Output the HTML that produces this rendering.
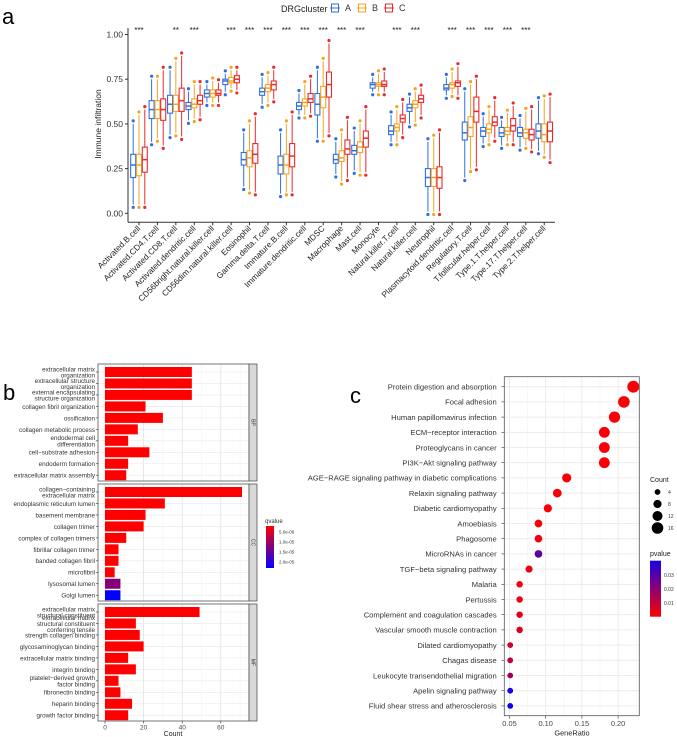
<!DOCTYPE html>
<html><head><meta charset="utf-8"><style>
body{margin:0;background:#fff}
svg{display:block;font-family:"Liberation Sans",Arial,sans-serif}
</style></head><body>
<svg id="fig" width="677" height="737" viewBox="0 0 677 737">
<g id="pa"></g>
<g id="pb"></g>
<g id="pc"></g>
</svg>
<script>
// ---------- Panel a data ----------
const cellTypes=["Activated.B.cell","Activated.CD4.T.cell","Activated.CD8.T.cell","Activated.dendritic.cell","CD56bright.natural.killer.cell","CD56dim.natural.killer.cell","Eosinophil","Gamma.delta.T.cell","Immature.B.cell","Immature.dendritic.cell","MDSC","Macrophage","Mast.cell","Monocyte","Natural.killer.T.cell","Natural.killer.cell","Neutrophil","Plasmacytoid.dendritic.cell","Regulatory.T.cell","T.follicular.helper.cell","Type.1.T.helper.cell","Type.17.T.helper.cell","Type.2.T.helper.cell"];
const sigLabels=["***","","**","***","","***","***","***","***","***","***","***","***","","***","***","","***","***","***","***","***",""];
const yTicksA=[0,0.25,0.5,0.75,1.0];
const medA=[.27,.58,.61,.60,.67,.74,.30,.68,.27,.60,.61,.30,.35,.72,.46,.59,.20,.70,.45,.46,.45,.45,.46];
const q1A=[.20,.53,.56,.58,.65,.72,.27,.66,.22,.58,.55,.28,.33,.70,.44,.57,.15,.69,.41,.43,.43,.43,.42];
const q3A=[.33,.63,.66,.62,.69,.75,.34,.70,.32,.62,.67,.33,.38,.73,.49,.61,.25,.72,.51,.48,.48,.48,.50];
const loA=[.05,.40,.44,.52,.62,.68,.15,.61,.11,.55,.42,.22,.24,.68,.40,.50,.01,.66,.20,.39,.38,.37,.35];
const hiA=[.50,.75,.80,.68,.72,.78,.45,.76,.45,.67,.80,.40,.46,.76,.55,.65,.40,.76,.68,.54,.52,.53,.63];
const medB=[.27,.58,.61,.61,.67,.74,.31,.70,.27,.62,.65,.31,.37,.72,.48,.61,.20,.72,.48,.47,.46,.45,.44];
const q1B=[.21,.53,.57,.59,.65,.73,.26,.68,.22,.60,.59,.29,.34,.71,.46,.59,.15,.70,.43,.45,.44,.42,.40];
const q3B=[.33,.63,.66,.64,.69,.76,.35,.72,.33,.64,.71,.35,.40,.73,.50,.63,.25,.73,.54,.50,.48,.47,.50];
const loB=[.05,.42,.45,.53,.62,.70,.13,.62,.12,.55,.42,.18,.23,.68,.40,.51,.01,.67,.25,.40,.40,.38,.33];
const hiB=[.55,.75,.85,.72,.74,.80,.50,.77,.50,.72,.85,.45,.50,.78,.58,.68,.42,.79,.72,.58,.56,.57,.64];
const medC=[.30,.58,.63,.63,.67,.75,.33,.72,.32,.64,.72,.36,.42,.72,.53,.64,.20,.73,.57,.51,.49,.44,.46];
const q1C=[.23,.52,.57,.61,.66,.73,.28,.69,.26,.62,.65,.33,.37,.71,.51,.62,.14,.71,.51,.49,.46,.41,.40];
const q3C=[.37,.64,.70,.66,.69,.77,.39,.74,.39,.67,.79,.41,.46,.74,.55,.66,.26,.74,.65,.54,.53,.47,.51];
const loC=[.05,.38,.43,.54,.62,.69,.12,.64,.12,.56,.45,.20,.23,.68,.44,.55,.01,.66,.26,.42,.40,.36,.30];
const hiC=[.58,.80,.88,.72,.73,.80,.54,.80,.55,.75,.95,.52,.58,.79,.62,.70,.45,.82,.75,.63,.60,.58,.65];
const groupNames=["A","B","C"];

// ---------- Panel b data ----------
const bpTerms=[["extracellular matrix","organization"],["extracellular structure","organization"],["external encapsulating","structure organization"],["collagen fibril organization"],["ossification"],["collagen metabolic process"],["endodermal cell","differentiation"],["cell\u2212substrate adhesion"],["endoderm formation"],["extracellular matrix assembly"]];
const bpCounts=[45,45,45,21,30,17,12,23,12,11];
const bpQ=[1e-7,1e-7,1e-7,1e-7,1e-7,1e-7,1e-7,1e-7,1e-7,1e-7];
const ccTerms=[["collagen\u2212containing","extracellular matrix"],["endoplasmic reticulum lumen"],["basement membrane"],["collagen trimer"],["complex of collagen trimers"],["fibrillar collagen trimer"],["banded collagen fibril"],["microfibril"],["lysosomal lumen"],["Golgi lumen"]];
const ccCounts=[71,31,21,20,11,7,7,5,8,8];
const ccQ=[1e-7,1e-7,1e-7,1e-7,1e-7,1e-7,1e-7,1e-7,1.2e-5,2.3e-5];
const mfTerms=[["extracellular matrix","structural constituent"],["extracellular matrix","structural constituent","conferring tensile"],["strength collagen binding"],["glycosaminoglycan binding"],["extracellular matrix binding"],["integrin binding"],["platelet\u2212derived growth","factor binding"],["fibronectin binding"],["heparin binding"],["growth factor binding"]];
const mfCounts=[49,16,18,20,12,16,7,8,14,12];
const mfQ=[1e-7,1e-7,1e-7,1e-7,1e-7,1e-7,1e-7,1e-7,1e-7,1e-7];
const countTicks=[0,20,40,60];
const qTicks=[5e-6,1e-5,1.5e-5,2e-5];

// ---------- Panel c data ----------
const keggTerms=["Protein digestion and absorption","Focal adhesion","Human papillomavirus infection","ECM\u2212receptor interaction","Proteoglycans in cancer","PI3K\u2212Akt signaling pathway","AGE\u2212RAGE signaling pathway in diabetic complications","Relaxin signaling pathway","Diabetic cardiomyopathy","Amoebiasis","Phagosome","MicroRNAs in cancer","TGF\u2212beta signaling pathway","Malaria","Pertussis","Complement and coagulation cascades","Vascular smooth muscle contraction","Dilated cardiomyopathy","Chagas disease","Leukocyte transendothelial migration","Apelin signaling pathway","Fluid shear stress and atherosclerosis"];
const geneRatio=[.221,.208,.195,.181,.181,.181,.129,.116,.103,.090,.090,.090,.077,.064,.064,.064,.064,.051,.051,.051,.051,.051];
const keggCount=[17,16,15,14,14,14,10,9,8,7,7,7,6,5,5,5,5,4,4,4,4,4];
const keggP=[.001,.001,.001,.001,.001,.001,.001,.001,.001,.001,.002,.025,.003,.002,.003,.005,.006,.008,.010,.015,.036,.037];
const ratioTicks=[0.05,0.10,0.15,0.20];
const countLegend=[4,8,12,16];
const pLegendTicks=[0.01,0.02,0.03];

const NS="http://www.w3.org/2000/svg";
function mk(parent,tag,attrs,text){const e=document.createElementNS(NS,tag);for(const k in attrs)e.setAttribute(k,attrs[k]);if(text!==undefined)e.textContent=text;parent.appendChild(e);return e;}

// ================= Panel a =================
(function(){
const g=document.getElementById('pa');
const x0=139,dx=18.42,yZero=213.3,yScale=178.8;
const xA=i=>x0+i*dx, yA=v=>yZero-v*yScale;
const cols=["#2f6fe4","#f5a422","#ea2a2c"];
const t=mk(g,'text',{x:2,y:24,'font-size':22});t.textContent='a';


const lt=mk(g,'text',{x:281,y:12,'font-size':9,fill:'#222'},'DRGcluster');


groupNames.forEach((n,k)=>{
 const lx=330+k*27;
 const lg=mk(g,'g',{});
 
 
 mk(lg,'line',{x1:lx,x2:lx+10,y1:8,y2:8,stroke:cols[k],'stroke-width':1});
 mk(lg,'rect',{x:lx+1.5,y:4,width:7,height:8,fill:'#fff',stroke:cols[k],'stroke-width':1});
 mk(lg,'line',{x1:lx+1.5,x2:lx+8.5,y1:8,y2:8,stroke:cols[k],'stroke-width':1});
 mk(lg,'text',{x:lx+15,y:11,'font-size':9,fill:'#333'},n);
});
mk(g,'line',{x1:128,x2:128,y1:28,y2:222.3,stroke:'#333','stroke-width':1});
mk(g,'line',{x1:128,x2:555,y1:222.3,y2:222.3,stroke:'#333','stroke-width':1});
yTicksA.forEach(v=>{
 mk(g,'line',{x1:125,x2:128,y1:yA(v),y2:yA(v),stroke:'#333'});
 const tl=mk(g,'text',{x:123,y:yA(v)+3,'font-size':8.5,'text-anchor':'end',fill:'#333'},v.toFixed(2));
 
 
});
const yt=mk(g,'text',{transform:'translate(101,124) rotate(-90)','font-size':8.5,'text-anchor':'middle',fill:'#222'},'Immune infiltration');


const sets=[[medA,q1A,q3A,loA,hiA],[medB,q1B,q3B,loB,hiB],[medC,q1C,q3C,loC,hiC]];
cellTypes.forEach((c,i)=>{
 const cx=xA(i);
 mk(g,'line',{x1:cx,x2:cx,y1:222.3,y2:225.3,stroke:'#333'});
 const xl=mk(g,'text',{transform:`translate(${cx+2},${229}) rotate(-45)`,'font-size':8.3,'text-anchor':'end',fill:'#222'},c);
 
 
 if(sigLabels[i]){const s=mk(g,'text',{x:cx,y:33,'font-size':8,'text-anchor':'middle',fill:'#222'},sigLabels[i]);
  
  }
 sets.forEach((s,k)=>{
  const bx=cx+(k-1)*5.8, w=5;
  const bg=mk(g,'g',{});
  
  
  mk(bg,'line',{x1:bx,x2:bx,y1:yA(s[4][i]),y2:yA(s[3][i]),stroke:cols[k],'stroke-width':1});
  mk(bg,'rect',{x:bx-w/2,y:yA(s[2][i]),width:w,height:yA(s[1][i])-yA(s[2][i]),fill:'#fff',stroke:cols[k],'stroke-width':1.1});
  mk(bg,'line',{x1:bx-w/2,x2:bx+w/2,y1:yA(s[0][i]),y2:yA(s[0][i]),stroke:cols[k],'stroke-width':1.5});
  mk(bg,'circle',{cx:bx,cy:yA(s[4][i])-3,r:1.6,fill:cols[k]});
  mk(bg,'circle',{cx:bx,cy:yA(s[3][i])+3,r:1.6,fill:cols[k]});
 });
});
})();

// ================= Panel b =================
(function(){
const g=document.getElementById('pb');
const t=mk(g,'text',{x:3,y:400,'font-size':22},'b');


const xL=105,xR=249,perC=1.93,unit=11.47;
const xB=v=>xL+v*perC;
const qCol=q=>{const f=Math.min(1,Math.max(0,(q-2e-6)/(2.3e-5-2e-6)));return `rgb(${Math.round(255*(1-f))},0,${Math.round(255*f)})`;};
const panels=[[bpTerms,bpCounts,bpQ,364,481,'BP'],[ccTerms,ccCounts,ccQ,484,601,'CC'],[mfTerms,mfCounts,mfQ,604,721,'MF']];
panels.forEach(([terms,counts,qs,top,bot,name])=>{
 const pg=mk(g,'g',{});
 
 
 mk(pg,'rect',{x:xL-10,y:top,width:xR-xL+10,height:bot-top,fill:'#fff'});
 for(let v=0;v<=70;v+=10) mk(pg,'line',{x1:xB(v),x2:xB(v),y1:top,y2:bot,stroke:v%20==0?'#e3e3e3':'#f1f1f1','stroke-width':v%20==0?0.8:0.5});
 terms.forEach((lines,i)=>{
  const cy=top+8+i*unit;
  mk(pg,'line',{x1:xL-10,x2:xR,y1:cy,y2:cy,stroke:'#e8e8e8','stroke-width':0.6});
  const b=mk(pg,'rect',{x:xB(0),y:cy-5,width:xB(counts[i])-xB(0),height:10,fill:qCol(qs[i])});
  
  
  mk(pg,'line',{x1:96,x2:98.5,y1:cy,y2:cy,stroke:'#333','stroke-width':0.6});
  const n=lines.length;
  lines.forEach((ln,j)=>{
   const tl=mk(pg,'text',{x:95,y:cy+2.4+(j-(n-1)/2)*6.1,'font-size':6.3,'text-anchor':'end',fill:'#333'},ln);
   
   
  });
 });
 mk(pg,'rect',{x:xL-7,y:top,width:xR-xL+7,height:bot-top,fill:'none',stroke:'#555','stroke-width':0.8});
 mk(pg,'rect',{x:xR,y:top,width:8,height:bot-top,fill:'#d9d9d9',stroke:'#555','stroke-width':0.8});
 const st=mk(pg,'text',{transform:`translate(${xR+2.5},${(top+bot)/2}) rotate(90)`,'font-size':5,'text-anchor':'middle',fill:'#333'},name);
 
 
});
countTicks.forEach(v=>{
 mk(g,'line',{x1:xB(v),x2:xB(v),y1:721,y2:723.5,stroke:'#333','stroke-width':0.6});
 const tl=mk(g,'text',{x:xB(v),y:729.5,'font-size':6.5,'text-anchor':'middle',fill:'#444'},v);
 
 
});
const xt=mk(g,'text',{x:173,y:736,'font-size':7,'text-anchor':'middle',fill:'#222'},'Count');


const lt=mk(g,'text',{x:265,y:523,'font-size':6,fill:'#333'},'qvalue');


const defs=mk(g,'defs',{});
const lgr=mk(defs,'linearGradient',{id:'qgrad',x1:0,y1:0,x2:0,y2:1});
mk(lgr,'stop',{offset:'0','stop-color':'#ff0000'});mk(lgr,'stop',{offset:'1','stop-color':'#0000ff'});
const cb=mk(g,'rect',{x:266,y:526,width:8,height:42,fill:'url(#qgrad)'});


qTicks.forEach(q=>{
 const y=526+(q-2e-6)/(2.3e-5-2e-6)*42;
 const tl=mk(g,'text',{x:279,y:y+1.5,'font-size':4.5,fill:'#333'},q.toExponential(1).replace('e-','e-0'));
 
 
});
})();

// ================= Panel c =================
(function(){
const g=document.getElementById('pc');
const t=mk(g,'text',{x:350,y:403,'font-size':22},'c');


const L=504.3,R=639.3,T=376.7,B=715.7,rowY0=386.7,rowD=15.2;
const xC=v=>509.5+(v-0.05)*724;
const yC=i=>rowY0+i*rowD;
const pCol=p=>{const f=Math.min(1,Math.max(0,p/0.04));return `rgb(${Math.round(255*(1-f))},0,${Math.round(255*f)})`;};
const rC=c=>1.45*Math.sqrt(c);
for(let v=0.025;v<=0.226;v+=0.025){const major=Math.abs(Math.round(v*40)%2)==0;
 mk(g,'line',{x1:xC(v),x2:xC(v),y1:T,y2:B,stroke:major?'#e6e6e6':'#f2f2f2','stroke-width':major?0.8:0.5});}
keggTerms.forEach((term,i)=>{
 mk(g,'line',{x1:L,x2:R,y1:yC(i),y2:yC(i),stroke:'#e8e8e8','stroke-width':0.8});
 mk(g,'line',{x1:501.5,x2:L,y1:yC(i),y2:yC(i),stroke:'#333','stroke-width':0.6});
 const tl=mk(g,'text',{x:496.7,y:yC(i)+2.8,'font-size':7.6,'text-anchor':'end',fill:'#333'},term);
 
 
 const d=mk(g,'circle',{cx:xC(geneRatio[i]),cy:yC(i),r:rC(keggCount[i]),fill:pCol(keggP[i])});
 
 
});
mk(g,'rect',{x:L,y:T,width:R-L,height:B-T,fill:'none',stroke:'#555','stroke-width':0.8});
ratioTicks.forEach(v=>{
 mk(g,'line',{x1:xC(v),x2:xC(v),y1:B,y2:B+3,stroke:'#333','stroke-width':0.6});
 const tl=mk(g,'text',{x:xC(v),y:B+10.5,'font-size':7.4,'text-anchor':'middle',fill:'#444'},v.toFixed(2));
 
 
});
const xt=mk(g,'text',{x:572,y:735.5,'font-size':7.4,'text-anchor':'middle',fill:'#222'},'GeneRatio');


const ct=mk(g,'text',{x:650,y:482,'font-size':7,fill:'#222'},'Count');


countLegend.forEach((c,k)=>{
 const y=492+k*12;
 const lg=mk(g,'g',{});
 
 
 mk(lg,'circle',{cx:657.5,cy:y,r:rC(c),fill:'#000'});
 mk(lg,'text',{x:668,y:y+2,'font-size':5,fill:'#333'},c);
});
const pt=mk(g,'text',{x:650,y:556,'font-size':7,fill:'#222'},'pvalue');


const defs=mk(g,'defs',{});
const lgr=mk(defs,'linearGradient',{id:'pgrad',x1:0,y1:0,x2:0,y2:1});
mk(lgr,'stop',{offset:'0','stop-color':'#1a00e5'});mk(lgr,'stop',{offset:'1','stop-color':'#ff0000'});
const cb=mk(g,'rect',{x:650,y:560.7,width:11,height:56,fill:'url(#pgrad)'});


pLegendTicks.forEach(v=>{
 const y=617-v/0.04*56;
 const tl=mk(g,'text',{x:664,y:y+2,'font-size':5,fill:'#333'},v.toFixed(2));
 
 
});
})();
</script>
</body></html>
